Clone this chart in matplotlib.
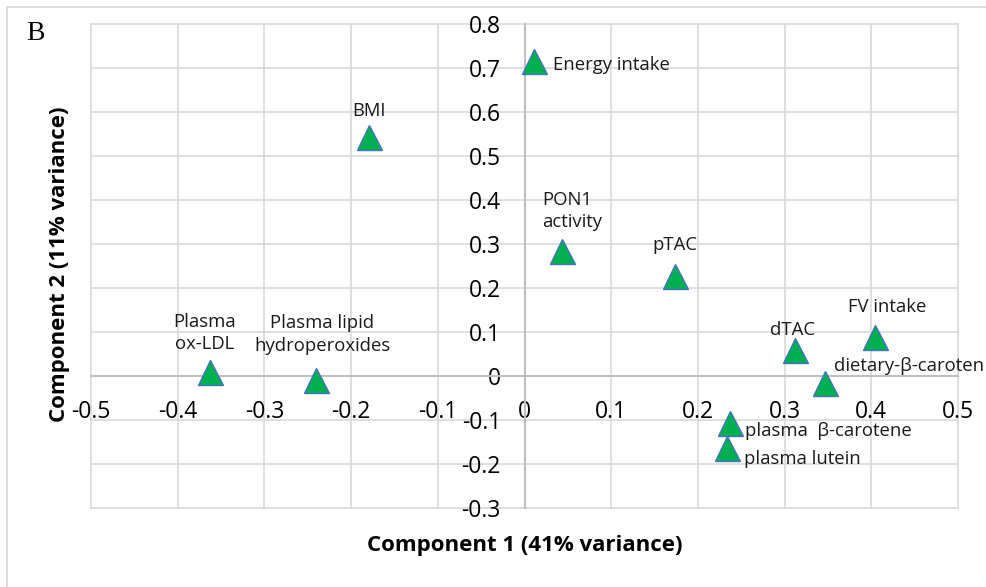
import matplotlib
matplotlib.use("Agg")
import matplotlib.pyplot as plt
from matplotlib.patches import Rectangle

# loadings
labels = ["Energy intake", "BMI", "PON1\nactivity", "pTAC", "dTAC", "FV intake",
          "dietary-\u03b2-caroten", "plasma  \u03b2-carotene", "plasma lutein",
          "Plasma\nox-LDL", "Plasma lipid\nhydroperoxides"]
comp1 = [0.011, -0.179, 0.043, 0.174, 0.312, 0.404, 0.347, 0.237, 0.234, -0.363, -0.241]
comp2 = [0.716, 0.543, 0.284, 0.228, 0.058, 0.088, -0.015, -0.106, -0.163, 0.010, -0.010]

x_ticks = [-0.5, -0.4, -0.3, -0.2, -0.1, 0, 0.1, 0.2, 0.3, 0.4, 0.5]
y_ticks = [-0.3, -0.2, -0.1, 0, 0.1, 0.2, 0.3, 0.4, 0.5, 0.6, 0.7, 0.8]

# label offsets in points, alignment, multi-line alignment
offsets = [(14, -3, "left", "center"), (0, 19, "center", "center"),
           (-14, 29, "left", "left"), (0, 22, "center", "center"),
           (-2, 15, "center", "center"), (9, 22, "center", "center"),
           (6, 12, "left", "center"), (11, -6, "left", "center"),
           (12, -8, "left", "center"), (-4, 28, "center", "center"),
           (5, 33, "center", "center")]

FONT = "Open Sans"
GRID = "#D9D9D9"

fig = plt.figure(figsize=(9.86, 5.87), dpi=100)
ax = fig.add_axes([91 / 986, 1 - 508 / 587, 867 / 986, 484 / 587])

# axes cross at zero (set before the tick labels, it resets the ticks)
for side in ["top", "right"]:
    ax.spines[side].set_visible(False)
ax.spines["left"].set_position(("data", 0))
ax.spines["bottom"].set_position(("data", 0))
for side in ["left", "bottom"]:
    ax.spines[side].set_color("#BFBFBF")
    ax.spines[side].set_linewidth(1.5)

ax.set_xlim(-0.5, 0.5)
ax.set_ylim(-0.3, 0.8)
ax.set_xticks(x_ticks)
ax.set_yticks(y_ticks)
ax.set_xticklabels([f"{v:g}" for v in x_ticks], fontfamily=FONT, fontsize=16.5)
ax.set_yticklabels([f"{v:g}" for v in y_ticks], fontfamily=FONT, fontsize=16.5)
ax.tick_params(length=0, pad=17, colors="#000000")

ax.grid(True, color=GRID, linewidth=1.2)
for gl in ax.get_xgridlines() + ax.get_ygridlines():
    gl.set_clip_on(False)
ax.set_axisbelow(True)

ax.plot(comp1, comp2, linestyle="none", marker="^", markersize=18,
        markerfacecolor="#00B050", markeredgecolor="#4472C4",
        markeredgewidth=1.0, zorder=3, clip_on=False)

for lab, x, y, (dx, dy, ha, malign) in zip(labels, comp1, comp2, offsets):
    ax.annotate(lab, (x, y), xytext=(dx, dy), textcoords="offset points",
                ha=ha, va="center", multialignment=malign,
                fontfamily=FONT, fontsize=13.3, color="#1a1a1a",
                linespacing=1.3, annotation_clip=False)

fig.text(524.5 / 986, 1 - 545 / 587, "Component 1 (41% variance)",
         ha="center", va="center", fontfamily=FONT, fontsize=16, fontweight="bold")
fig.text(60 / 986, 1 - 264 / 587, "Component 2 (11% variance)", rotation=90,
         ha="center", va="center", fontfamily=FONT, fontsize=16, fontweight="bold")

fig.text(26 / 986, 1 - 34 / 587, "B", ha="left", va="center",
         fontfamily="Liberation Serif", fontsize=20)

fig.patches.append(Rectangle((7 / 986, -0.05), 1.05, 1 - 7 / 587 + 0.05,
                             transform=fig.transFigure, fill=False,
                             edgecolor=GRID, linewidth=1.2))

fig.savefig("out.png", dpi=100)
